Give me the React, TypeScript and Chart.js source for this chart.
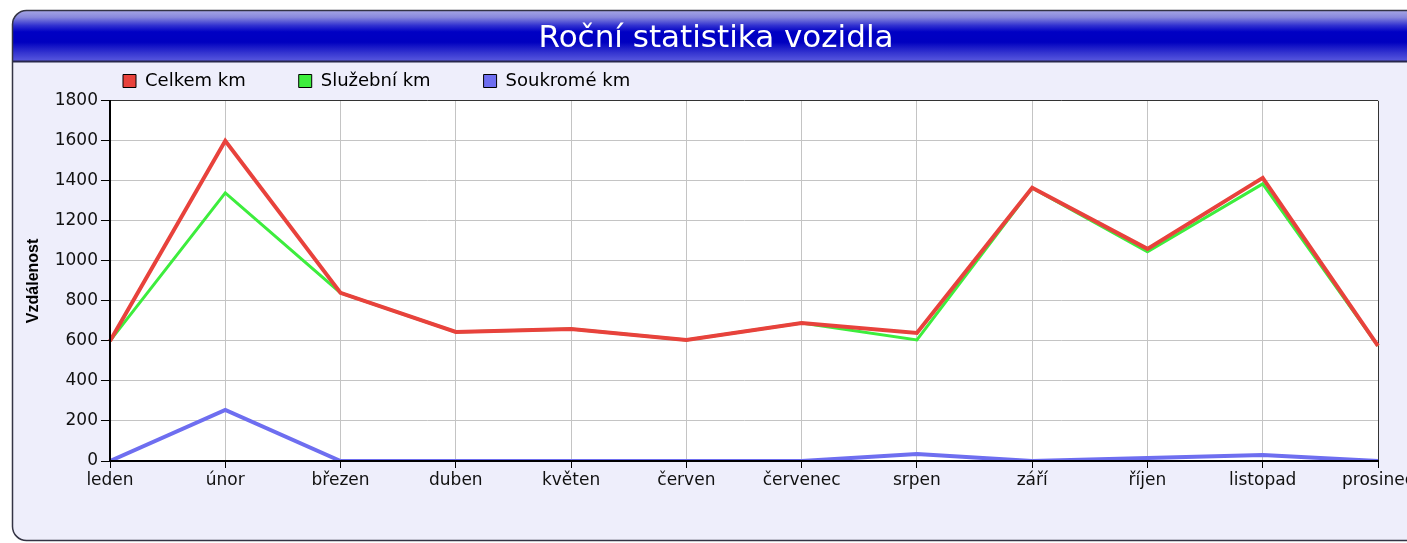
import React, { useEffect, useRef } from "react";
import { Chart, registerables } from "chart.js";

Chart.register(...registerables);

const months = ["leden", "únor", "březen", "duben", "květen", "červen", "červenec", "srpen", "září", "říjen", "listopad", "prosinec"];
const celkemKm = [600, 1600, 840, 645, 660, 605, 690, 640, 1365, 1060, 1415, 575];
const sluzebniKm = [600, 1340, 840, 645, 660, 605, 690, 605, 1365, 1045, 1385, 575];
const soukromeKm = [0, 255, 0, 0, 0, 0, 0, 35, 0, 15, 30, 0];
const seriesLabels = ["Celkem km", "Služební km", "Soukromé km"];
const seriesColors = ["#e8423c", "#3ded3d", "#6e6ef0"];
const yMin = 0;
const yMax = 1800;
const yStep = 200;
const chartTitle = "Roční statistika vozidla";
const yAxisTitle = "Vzdálenost";

const CANVAS_W = 1432;
const CANVAS_H = 543;
const PLOT_LEFT = 110;
const PLOT_RIGHT = 1378;
const PLOT_BOTTOM = 461;
const PAD_X = 12;

const panelPlugin = {
  id: "panelBackground",
  afterLayout(chart: any) {
    const lg = chart.legend;
    if (lg) {
      const pad = lg.options.labels.padding;
      const w = lg.right - lg.left;
      lg.left = 123 - pad;
      lg.right = lg.left + w;
      lg.top = 72 - pad;
      lg.bottom = lg.top + pad + 32;
    }
  },
  beforeDraw(chart: any) {
    const { ctx, width, height, chartArea } = chart;
    ctx.save();
    ctx.fillStyle = "#ffffff";
    ctx.fillRect(0, 0, width, height);
    const x0 = 12.5, y0 = 10.5, x1 = width + 30, y1 = 540.5, r = 14;
    ctx.beginPath();
    ctx.moveTo(x1, y0);
    ctx.lineTo(x0 + r, y0);
    ctx.arcTo(x0, y0, x0, y0 + r, r);
    ctx.lineTo(x0, y1 - r);
    ctx.arcTo(x0, y1, x0 + r, y1, r);
    ctx.lineTo(x1, y1);
    ctx.closePath();
    ctx.fillStyle = "#eeeefb";
    ctx.fill();
    ctx.save();
    ctx.clip();
    const g = ctx.createLinearGradient(0, 10, 0, 62);
    g.addColorStop(0, "#a8a8e6");
    g.addColorStop(0.14, "#8888dc");
    g.addColorStop(0.3, "#3030d0");
    g.addColorStop(0.42, "#0000c4");
    g.addColorStop(0.62, "#0000c0");
    g.addColorStop(0.82, "#3434d0");
    g.addColorStop(1, "#5c5ce0");
    ctx.fillStyle = g;
    ctx.fillRect(0, 10, width + 40, 52);
    ctx.fillStyle = "#26264c";
    ctx.fillRect(0, 60.5, width + 40, 2);
    ctx.restore();
    ctx.lineWidth = 1.5;
    ctx.strokeStyle = "#343444";
    ctx.stroke();
    ctx.fillStyle = "#ffffff";
    ctx.fillRect(chartArea.left, chartArea.top, chartArea.right - chartArea.left, chartArea.bottom - chartArea.top);
    ctx.restore();
  },
};

export default function App() {
  const ref = useRef<HTMLCanvasElement | null>(null);

  useEffect(() => {
    if (!ref.current) return;
    const gridColor = "#c4c4c4";
    const chart = new Chart(ref.current, {
      type: "line",
      data: {
        labels: months,
        datasets: [
          { label: seriesLabels[0], data: celkemKm, borderColor: seriesColors[0], backgroundColor: seriesColors[0], borderWidth: 4, pointRadius: 0, tension: 0, fill: false },
          { label: seriesLabels[1], data: sluzebniKm, borderColor: seriesColors[1], backgroundColor: seriesColors[1], borderWidth: 3, pointRadius: 0, tension: 0, fill: false },
          { label: seriesLabels[2], data: soukromeKm, borderColor: seriesColors[2], backgroundColor: seriesColors[2], borderWidth: 4, pointRadius: 0, tension: 0, fill: false },
        ],
      },
      options: {
        responsive: false,
        animation: false,
        devicePixelRatio: 1,
        layout: { padding: { left: PAD_X, right: PAD_X, top: 0, bottom: 0 } },
        plugins: {
          title: {
            display: true,
            text: chartTitle,
            color: "#ffffff",
            font: { family: "DejaVu Sans", size: 31, weight: "normal" },
            padding: { top: 20, bottom: 0 },
          },
          legend: {
            display: true,
            position: "top",
            align: "start",
            maxHeight: 43.6,
            labels: {
              boxWidth: 13,
              boxHeight: 13,
              padding: 53,
              color: "#1a1a1a",
              font: { family: "DejaVu Sans", size: 18 },
              generateLabels: (c: any) =>
                c.data.datasets.map((ds: any, i: number) => ({
                  text: ds.label,
                  fillStyle: seriesColors[i],
                  strokeStyle: "#000000",
                  lineWidth: 1,
                  hidden: false,
                  datasetIndex: i,
                })),
            },
          },
          tooltip: { enabled: false },
        },
        scales: {
          x: {
            type: "category",
            offset: false,
            afterFit: (s: any) => { s.height = CANVAS_H - PLOT_BOTTOM; },
            grid: {
              color: (ctx: any) => (ctx.index === months.length - 1 ? "#333333" : gridColor),
              lineWidth: 1,
              tickColor: "#000000",
              tickLength: 7,
              drawTicks: true,
            },
            border: { color: "#000000", width: 2, z: 1 },
            ticks: {
              autoSkip: false,
              maxRotation: 0,
              minRotation: 0,
              padding: 2,
              color: "#111111",
              font: { family: "DejaVu Sans", size: 17 },
            },
          },
          y: {
            min: yMin,
            max: yMax,
            afterFit: (s: any) => { s.width = PLOT_LEFT - PAD_X; },
            grid: {
              color: (ctx: any) => (ctx.tick && ctx.tick.value === yMax ? "#333333" : gridColor),
              lineWidth: 1,
              tickColor: "#000000",
              tickLength: 9,
              drawTicks: true,
            },
            border: { color: "#000000", width: 2, z: 1 },
            ticks: {
              stepSize: yStep,
              padding: 3,
              color: "#111111",
              font: { family: "DejaVu Sans", size: 17 },
              callback: (v: any) => String(v),
            },
            title: {
              display: true,
              text: yAxisTitle,
              color: "#000000",
              font: { family: "Liberation Sans", size: 16, weight: "bold" },
              padding: { top: 12, bottom: 0 },
            },
          },
          spacer: {
            type: "linear",
            position: "right",
            display: true,
            afterFit: (s: any) => { s.width = CANVAS_W - PAD_X - PLOT_RIGHT; },
            grid: { display: false, drawTicks: false },
            border: { display: false },
            ticks: { display: false },
          },
        },
      },
      plugins: [panelPlugin],
    } as any);
    return () => chart.destroy();
  }, []);

  return (
    <div style={{ position: "fixed", left: 0, top: 0, width: 1407, height: CANVAS_H, overflow: "hidden", background: "#ffffff" }}>
      <canvas ref={ref} width={CANVAS_W} height={CANVAS_H} style={{ display: "block", width: CANVAS_W, height: CANVAS_H }} />
    </div>
  );
}
